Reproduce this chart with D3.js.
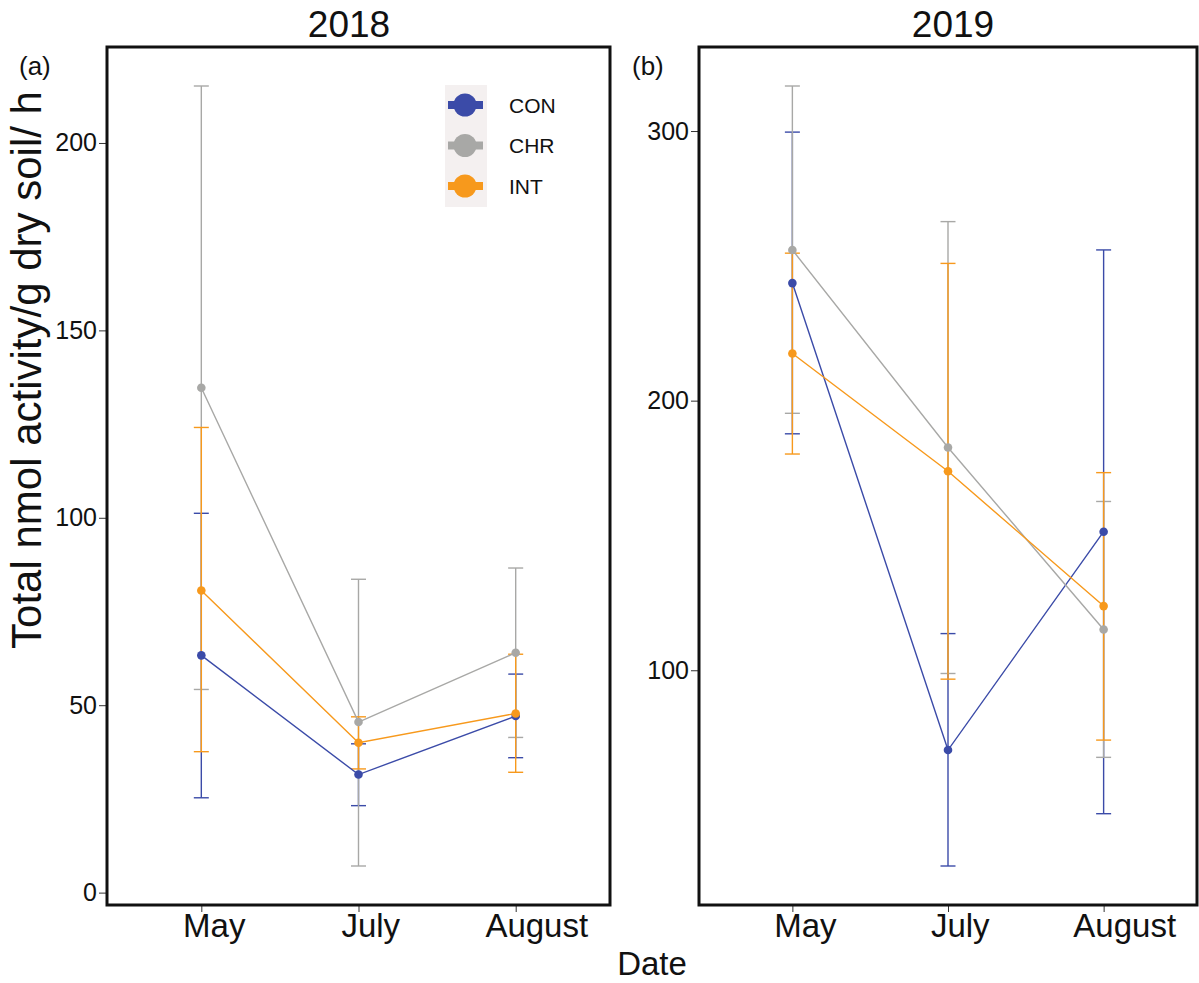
<!DOCTYPE html>
<html>
<head>
<meta charset="utf-8">
<script src="https://cdn.jsdelivr.net/npm/d3@7"></script>
<style>
  body { margin: 0; background: #fff; }
  text { font-family: "Liberation Sans", Arial, Helvetica, sans-serif; fill: #111; }
</style>
</head>
<body>
<div id="viz"></div>
<script>
// categories
var months = ["May", "July", "August"];
var groups = ["CON", "CHR", "INT"];
var groupColors = ["#3b4ba8", "#a8a8a6", "#f7991c"];

// 2018 values (mean, lower and upper end of error bar)
var con2018 = [63.3, 31.5, 47.1];
var con2018Lo = [25.3, 23.2, 36.0];
var con2018Hi = [101.2, 39.7, 58.3];
var chr2018 = [134.7, 45.5, 64.0];
var chr2018Lo = [54.2, 7.1, 41.4];
var chr2018Hi = [215.2, 83.6, 86.6];
var int2018 = [80.6, 40.0, 47.8];
var int2018Lo = [37.6, 33.0, 32.1];
var int2018Hi = [124.1, 46.9, 63.6];

// 2019 values
var con2019 = [243.6, 70.4, 151.4];
var con2019Lo = [187.7, 27.4, 46.8];
var con2019Hi = [299.6, 113.6, 255.9];
var chr2019 = [255.9, 182.6, 115.1];
var chr2019Lo = [195.3, 98.8, 67.7];
var chr2019Hi = [316.7, 266.4, 162.6];
var int2019 = [217.5, 173.8, 123.8];
var int2019Lo = [180.2, 96.7, 74.1];
var int2019Hi = [254.7, 250.9, 173.3];

// tick labels
var ticks2018 = [0, 50, 100, 150, 200];
var ticks2019 = [100, 200, 300];

var w = 1199, h = 983;
var svg = d3.select("div#viz").append("svg")
  .attr("width", w)
  .attr("height", h);

function buildSeries(means, los, his) {
  return groups.map(function(g, gi) {
    return {
      group: g,
      color: groupColors[gi],
      points: months.map(function(m, mi) {
        return { month: m, mean: means[gi][mi], lo: los[gi][mi], hi: his[gi][mi] };
      })
    };
  });
}

var panels = [
  { title: "2018", tag: "(a)", left: 107, right: 610, titleX: 349, tagX: 19,
    ticks: ticks2018,
    series: buildSeries([con2018, chr2018, int2018], [con2018Lo, chr2018Lo, int2018Lo], [con2018Hi, chr2018Hi, int2018Hi]) },
  { title: "2019", tag: "(b)", left: 699, right: 1197, titleX: 953, tagX: 632,
    ticks: ticks2019,
    series: buildSeries([con2019, chr2019, int2019], [con2019Lo, chr2019Lo, int2019Lo], [con2019Hi, chr2019Hi, int2019Hi]) }
];
var plotTop = 47, plotBottom = 905;

panels.forEach(function(p) {
  var g = svg.append("g");

  // y domain from data with 5% expansion like ggplot
  var lo = d3.min(p.series, function(s) { return d3.min(s.points, function(d) { return d.lo; }); });
  var hi = d3.max(p.series, function(s) { return d3.max(s.points, function(d) { return d.hi; }); });
  var pad = (hi - lo) * 0.05;
  var y = d3.scaleLinear().domain([lo - pad, hi + pad]).range([plotBottom, plotTop]);
  var x = d3.scalePoint().domain(months).range([p.left, p.right]).padding(0.6);

  // y axis
  var yAxis = d3.axisLeft(y).tickValues(p.ticks).tickSize(8).tickPadding(2);
  var ya = g.append("g")
    .attr("transform", "translate(" + p.left + ",0)")
    .call(yAxis);
  ya.select(".domain").remove();
  ya.selectAll(".tick line").attr("stroke", "#333").attr("stroke-width", 1);
  ya.selectAll(".tick text").style("font-size", "25px").attr("fill", "#111");

  // x axis
  var xAxis = d3.axisBottom(x).tickSize(7).tickPadding(2);
  var xa = g.append("g")
    .attr("transform", "translate(0," + plotBottom + ")")
    .call(xAxis);
  xa.select(".domain").remove();
  xa.selectAll(".tick line").attr("stroke", "#333").attr("stroke-width", 1);
  xa.selectAll(".tick text")
    .style("font-size", "33px")
    .attr("fill", "#111")
    .attr("text-anchor", "start")
    .attr("dy", "0.71em")
    .attr("x", function() { return -0.3 * this.getComputedTextLength(); });

  // error bars
  p.series.forEach(function(s) {
    var eb = g.append("g").attr("stroke", s.color).attr("stroke-width", 1.4).attr("fill", "none");
    eb.selectAll("line.v").data(s.points).enter().append("line")
      .attr("class", "v")
      .attr("x1", function(d) { return x(d.month); })
      .attr("x2", function(d) { return x(d.month); })
      .attr("y1", function(d) { return y(d.lo); })
      .attr("y2", function(d) { return y(d.hi); });
    eb.selectAll("line.cl").data(s.points).enter().append("line")
      .attr("class", "cl")
      .attr("x1", function(d) { return x(d.month) - 7.5; })
      .attr("x2", function(d) { return x(d.month) + 7.5; })
      .attr("y1", function(d) { return y(d.lo); })
      .attr("y2", function(d) { return y(d.lo); });
    eb.selectAll("line.ch").data(s.points).enter().append("line")
      .attr("class", "ch")
      .attr("x1", function(d) { return x(d.month) - 7.5; })
      .attr("x2", function(d) { return x(d.month) + 7.5; })
      .attr("y1", function(d) { return y(d.hi); })
      .attr("y2", function(d) { return y(d.hi); });
  });

  // lines
  var line = d3.line()
    .x(function(d) { return x(d.month); })
    .y(function(d) { return y(d.mean); });
  p.series.forEach(function(s) {
    g.append("path")
      .datum(s.points)
      .attr("d", line)
      .attr("fill", "none")
      .attr("stroke", s.color)
      .attr("stroke-width", 1.4);
  });

  // points
  p.series.forEach(function(s) {
    g.selectAll(null).data(s.points).enter().append("circle")
      .attr("cx", function(d) { return x(d.month); })
      .attr("cy", function(d) { return y(d.mean); })
      .attr("r", 4.3)
      .attr("fill", s.color);
  });

  // panel frame
  g.append("rect")
    .attr("x", p.left)
    .attr("y", plotTop)
    .attr("width", p.right - p.left)
    .attr("height", plotBottom - plotTop)
    .attr("fill", "none")
    .attr("stroke", "#111")
    .attr("stroke-width", 3);

  // title and tag
  svg.append("text")
    .attr("x", p.titleX)
    .attr("y", 37)
    .attr("text-anchor", "middle")
    .style("font-size", "37px")
    .text(p.title);
  svg.append("text")
    .attr("x", p.tagX)
    .attr("y", 75)
    .style("font-size", "26px")
    .text(p.tag);
});

// legend (inside panel a)
var legend = svg.append("g");
legend.append("rect")
  .attr("x", 445)
  .attr("y", 85)
  .attr("width", 42)
  .attr("height", 122)
  .attr("fill", "#f4f0f0");
groups.forEach(function(gname, i) {
  var cy = 105 + i * 40.5;
  legend.append("line")
    .attr("x1", 448).attr("x2", 483)
    .attr("y1", cy).attr("y2", cy)
    .attr("stroke", groupColors[i])
    .attr("stroke-width", 8);
  legend.append("circle")
    .attr("cx", 465).attr("cy", cy).attr("r", 11.5)
    .attr("fill", groupColors[i]);
  legend.append("text")
    .attr("x", 509).attr("y", cy)
    .attr("dy", "0.36em")
    .style("font-size", "21px")
    .text(gname);
});

// axis titles
svg.append("text")
  .attr("transform", "translate(41,370)rotate(-90)")
  .attr("text-anchor", "middle")
  .style("font-size", "42px")
  .text("Total nmol activity/g dry soil/ h");

svg.append("text")
  .attr("x", 652)
  .attr("y", 975)
  .attr("text-anchor", "middle")
  .style("font-size", "33px")
  .text("Date");
</script>
</body>
</html>
